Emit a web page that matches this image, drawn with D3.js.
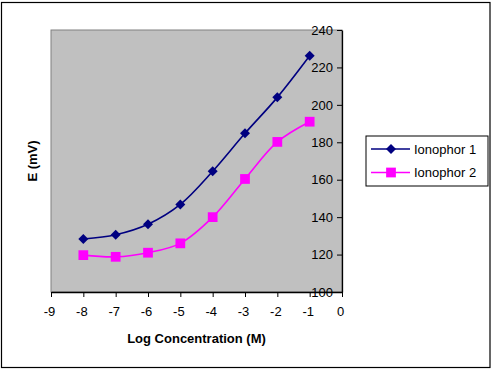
<!DOCTYPE html>
<html><head><meta charset="utf-8">
<script src="https://cdn.jsdelivr.net/npm/d3@7"></script>
<style>body{margin:0;background:#fff}svg{display:block}text{font-family:"Liberation Sans",Arial,sans-serif}</style>
</head><body>
<script>
const xValues = [-8, -7, -6, -5, -4, -3, -2, -1];
const ionophor1 = [128.3, 130.6, 136.2, 146.8, 164.5, 184.8, 204.0, 226.2];
const ionophor2 = [119.7, 118.8, 121.0, 126.0, 140.0, 160.4, 180.2, 191.0];
const seriesNames = ["Ionophor 1", "Ionophor 2"];
const xTicks = [-9, -8, -7, -6, -5, -4, -3, -2, -1, 0];
const yTicks = [100, 120, 140, 160, 180, 200, 220, 240];

const W = 492, H = 370;
const svg = d3.select("body").append("svg").attr("width", W).attr("height", H);
svg.append("rect").attr("x", 1.5).attr("y", 2.5).attr("width", 488.5).attr("height", 365)
  .attr("fill", "#fff").attr("stroke", "#000").attr("stroke-width", 1.2);

const L = 51, R = 342, T = 30, B = 292;
const x = d3.scaleLinear().domain([-9, 0]).range([L, R]);
const y = d3.scaleLinear().domain([100, 240]).range([B, T]);

svg.append("rect").attr("x", L).attr("y", T).attr("width", R - L).attr("height", B - T)
  .attr("fill", "#C0C0C0").attr("stroke", "#808080").attr("stroke-width", 1);

const xa = svg.append("g").attr("transform", `translate(0,${B})`)
  .call(d3.axisBottom(x).tickValues(xTicks).tickFormat(d => String(d)).tickSize(5).tickSizeOuter(0).tickPadding(10));
const ya = svg.append("g").attr("transform", `translate(${R},0)`)
  .call(d3.axisLeft(y).tickValues(yTicks).tickFormat(d => String(d)).tickSize(5).tickSizeOuter(0).tickPadding(4));
[xa, ya].forEach(g => {
  g.select(".domain").attr("stroke", "#000").attr("stroke-width", 1.3);
  g.selectAll(".tick line").attr("stroke", "#000");
  g.selectAll(".tick text").attr("font-size", 13).attr("fill", "#000").style("font-family", '"Liberation Sans",Arial,sans-serif');
});
xa.selectAll(".tick text").attr("dx", "-2");

const line = d3.line().x((d, i) => x(xValues[i])).y(d => y(d)).curve(d3.curveCatmullRom.alpha(0.5));
const colors = ["#000080", "#FF00FF"];
[ionophor1, ionophor2].forEach((s, k) => {
  svg.append("path").attr("d", line(s)).attr("fill", "none").attr("stroke", colors[k]).attr("stroke-width", 1.6);
});
const diamondSym = d3.symbol().type(d3.symbolSquare).size(50);
const square = d3.symbol().type(d3.symbolSquare).size(95);
svg.append("g").selectAll("path").data(ionophor1).join("path")
  .attr("transform", (d, i) => `translate(${x(xValues[i])},${y(d)}) rotate(45)`)
  .attr("d", diamondSym).attr("fill", colors[0]);
svg.append("g").selectAll("path").data(ionophor2).join("path")
  .attr("transform", (d, i) => `translate(${x(xValues[i])},${y(d)})`)
  .attr("d", square).attr("fill", colors[1]);

svg.append("text").attr("x", (L + R) / 2).attr("y", 343).attr("text-anchor", "middle")
  .attr("font-size", 13).attr("font-weight", "bold").text("Log Concentration (M)");
svg.append("text").attr("transform", `translate(37,${(T + B) / 2}) rotate(-90)`).attr("text-anchor", "middle")
  .attr("font-size", 13).attr("font-weight", "bold").text("E (mV)");

const lg = svg.append("g");
lg.append("rect").attr("x", 366).attr("y", 136).attr("width", 122).attr("height", 50)
  .attr("fill", "#fff").attr("stroke", "#000").attr("stroke-width", 1);
seriesNames.forEach((n, k) => {
  const cy = 149 + k * 23.5;
  lg.append("line").attr("x1", 371).attr("x2", 410).attr("y1", cy).attr("y2", cy)
    .attr("stroke", colors[k]).attr("stroke-width", 1.6);
  lg.append("path").attr("transform", `translate(391,${cy})` + (k === 0 ? " rotate(45)" : ""))
    .attr("d", k === 0 ? diamondSym() : square()).attr("fill", colors[k]);
  lg.append("text").attr("x", 414).attr("y", cy + 4.5).attr("font-size", 13).text(n);
});
</script>
</body></html>
